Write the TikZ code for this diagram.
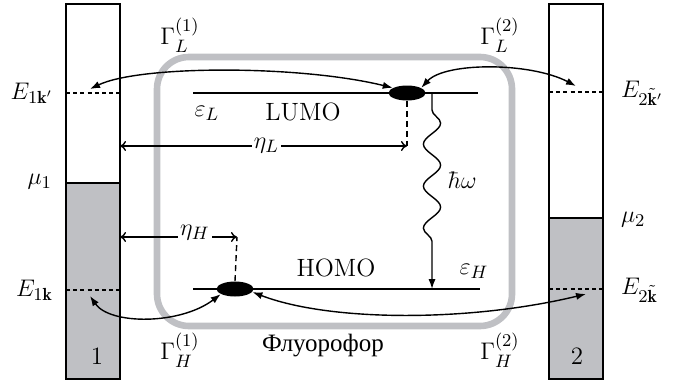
\documentclass[tikz,border=0pt]{standalone}
\usepackage{fontspec}
\newfontfamily\cyrfont{Liberation Serif}
\usepackage{amsmath,amssymb}
\usetikzlibrary{arrows.meta,shapes.geometric,decorations.pathmorphing}
\definecolor{grey}{HTML}{BFC0C4}

\begin{document}
\begin{tikzpicture}[x=0.5pt, y=-0.5pt, every node/.style={font=\fontsize{12.5}{15}\selectfont}, lead/.style={draw=black, line width=0.75pt}, frame/.style={draw=grey, line width=3.3pt, rounded corners=16pt}, lvl/.style={line width=0.75pt}, elev/.style={line width=0.75pt, dash pattern=on 2pt off 1.6pt}, dot/.style={ellipse, fill=black, minimum width=18.5pt, minimum height=7.5pt, inner sep=0pt}, gam/.style={{Latex[length=5pt,width=3.6pt]}-{Latex[length=5pt,width=3.6pt]}, line width=0.7pt}, eta/.style={{To[length=3pt,width=5pt]}-{To[length=3pt,width=5pt]}, line width=0.7pt}, lab/.style={fill=white, inner sep=1pt}, drop/.style={line width=0.7pt, dash pattern=on 3pt off 2pt}]
\useasboundingbox (0,0) rectangle (683,385);
\filldraw[lead, fill=white] (66,4) rectangle (120,379);
\filldraw[lead, fill=grey] (66,183) rectangle (120,379);
\filldraw[lead, fill=white] (549,4) rectangle (603,379);
\filldraw[lead, fill=grey] (549,218) rectangle (603,379);
\draw[frame] (157,57) rectangle (512,326);
\draw[elev] (66,93) -- (120,93);
\draw[elev] (66,290) -- (120,290);
\draw[elev] (549,92) -- (603,92);
\draw[elev] (549,289) -- (603,289);
\draw[lvl] (193,93) -- (478,93);
\draw[lvl] (193,289) -- (480,289);
\node[dot] (lumo) at (407,93) {};
\node[dot] (homo) at (235,289) {};
\node (lumotxt) at (303,112) {LUMO};
\node (homotxt) at (336,268) {HOMO};
\node (epsL) at (207,113) {$\varepsilon_L$};
\node (epsH) at (474,271) {$\varepsilon_H$};
\node[anchor=east] (E1kp) at (60,93) {$E_{1\mathbf{k}'}$};
\node[anchor=east] (mu1) at (59,182) {$\mu_1$};
\node[anchor=east] (E1k) at (60,290) {$E_{1\mathbf{k}}$};
\node[anchor=west] (E2kp) at (614,93) {$E_{2\tilde{\mathbf{k}}'}$};
\node[anchor=west] (mu2) at (614,220) {$\mu_2$};
\node[anchor=west] (E2k) at (614,290) {$E_{2\tilde{\mathbf{k}}}$};
\node (lead1) at (97,356) {1};
\node (lead2) at (577,356) {2};
\node (GL1) at (180,35) {$\Gamma_L^{(1)}$};
\node (GL2) at (500,35) {$\Gamma_L^{(2)}$};
\node (GH1) at (180,350) {$\Gamma_H^{(1)}$};
\node (GH2) at (500,350) {$\Gamma_H^{(2)}$};
\node (fluor) at (323,346) {\cyrfont Флуорофор};
\coordinate (kL1) at (90,89);
\coordinate (kL2) at (576,86);
\coordinate (kH1) at (90,296);
\coordinate (kH2) at (586,294);
\coordinate (etaLa) at (120,146);
\coordinate (etaLb) at (407,146);
\coordinate (etaHa) at (120,237);
\coordinate (etaHb) at (237,237);
\coordinate (emit) at (432,94);
\coordinate (photon) at (432,289);
\draw[gam] (kL1) .. controls (140,65) and (300,65) .. (lumo.160);
\draw[gam] (lumo.20) .. controls (445,62) and (530,62) .. (kL2);
\draw[gam] (kH1) .. controls (110,325) and (180,325) .. (homo.200);
\draw[gam] (homo.-10) .. controls (330,322) and (470,322) .. (kH2);
\draw[drop] (lumo.south) -- (etaLb);
\draw[drop] (homo.north) -- (etaHb);
\draw[eta] (etaLa) -- node[lab, pos=0.51] (etaL) {$\eta_L$} (etaLb);
\draw[eta] (etaHa) -- node[lab, pos=0.64, yshift=2pt] (etaH) {$\eta_H$} (etaHb);
\draw[-{Latex[length=5pt,width=3.6pt]}, line width=0.7pt, decorate, decoration={snake, amplitude=4.3pt, segment length=21pt, pre length=8pt, post length=14pt}] (emit) -- (photon);
\node (hw) at (462,180) {$\hbar\omega$};
\end{tikzpicture}
\end{document}
